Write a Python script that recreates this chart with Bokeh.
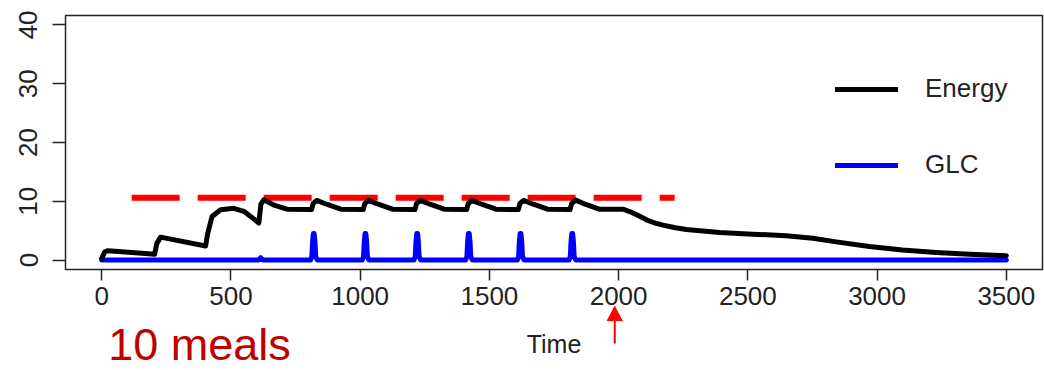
from bokeh.plotting import figure
from bokeh.models import Range1d, FixedTicker, Label, Legend, LegendItem
from bokeh.embed import file_html
from bokeh.resources import INLINE

# ---------------- data ----------------
energy_time = [0, 12, 25, 205, 213, 228, 402, 410, 427, 460, 511, 550, 580, 608,
               616, 627, 670, 717, 812,
               818, 832, 870, 925, 1012,
               1018, 1032, 1070, 1125, 1212,
               1218, 1232, 1270, 1325, 1412,
               1418, 1432, 1470, 1525, 1612,
               1618, 1632, 1670, 1725, 1812,
               1818, 1834, 1870, 1925, 2017,
               2040, 2070, 2108, 2140, 2172, 2220, 2262, 2391, 2519, 2648,
               2751, 2842, 2970, 3098, 3228, 3357, 3500]
energy_value = [0.3, 1.4, 1.6, 1.0, 2.8, 3.9, 2.4, 4.5, 7.4, 8.55, 8.8, 8.3, 7.3, 6.3,
                9.5, 10.25, 9.3, 8.65, 8.6,
                9.6, 10.15, 9.5, 8.65, 8.6,
                9.6, 10.15, 9.5, 8.65, 8.6,
                9.6, 10.15, 9.5, 8.65, 8.6,
                9.6, 10.15, 9.5, 8.65, 8.6,
                9.6, 10.15, 9.5, 8.65, 8.6,
                9.6, 10.2, 9.5, 8.65, 8.65,
                8.3, 7.7, 6.85, 6.3, 5.95, 5.5, 5.2, 4.7, 4.4, 4.15,
                3.7, 3.1, 2.3, 1.7, 1.3, 1.0, 0.75]

glc_time = [0, 605, 615, 625,
            808, 813, 816, 819, 822, 825, 828, 834,
            1008, 1013, 1016, 1019, 1022, 1025, 1028, 1034,
            1208, 1213, 1216, 1219, 1222, 1225, 1228, 1234,
            1408, 1413, 1416, 1419, 1422, 1425, 1428, 1434,
            1608, 1613, 1616, 1619, 1622, 1625, 1628, 1634,
            1808, 1813, 1816, 1819, 1822, 1825, 1828, 1834,
            3500]
glc_value = [0, 0, 0.4, 0,
             0, 0.6, 3.2, 4.5, 4.5, 3.2, 0.6, 0,
             0, 0.6, 3.2, 4.5, 4.5, 3.2, 0.6, 0,
             0, 0.6, 3.2, 4.5, 4.5, 3.2, 0.6, 0,
             0, 0.6, 3.2, 4.5, 4.5, 3.2, 0.6, 0,
             0, 0.6, 3.2, 4.5, 4.5, 3.2, 0.6, 0,
             0, 0.6, 3.2, 4.5, 4.5, 3.2, 0.6, 0,
             0]

threshold_time = [116, 2217]
threshold_value = [10.6, 10.6]

arrow_time = 1985
x_ticks = [0, 500, 1000, 1500, 2000, 2500, 3000, 3500]
y_ticks = [0, 10, 20, 30, 40]

# plotting box (R-style 4% extension of 0..3500 and 0..40)
box_x = [-140, 3640]
box_y = [-1.6, 41.6]

FONT = "Liberation Sans"
TXT = "#222222"

# The frame covers the whole page so that the annotations below the box are not clipped;
# the axes are pinned to the box edges with fixed_location.
p = figure(width=1044, height=370, output_backend="svg", toolbar_location=None,
           x_range=Range1d(-391.5, 3647.7), y_range=Range1d(-18.78, 44.15),
           min_border=0)
p.xgrid.grid_line_color = None
p.ygrid.grid_line_color = None
p.outline_line_color = None

p.quad(left=[box_x[0]], right=[box_x[1]], bottom=[box_y[0]], top=[box_y[1]],
       fill_color=None, line_color=TXT, line_width=1.5)

for ax in (p.xaxis[0], p.yaxis[0]):
    ax.axis_line_color = None
    ax.major_tick_line_color = TXT
    ax.major_tick_line_width = 1.5
    ax.major_tick_in = 0
    ax.minor_tick_line_color = None
    ax.major_label_text_font = FONT
    ax.major_label_text_font_size = "26px"
    ax.major_label_text_color = TXT

p.xaxis.fixed_location = box_y[0]
p.yaxis.fixed_location = box_x[0]
p.xaxis.bounds = (box_x[0], box_x[1])
p.yaxis.bounds = (box_y[0], box_y[1])
p.xaxis.ticker = FixedTicker(ticks=x_ticks)
p.yaxis.ticker = FixedTicker(ticks=y_ticks)
p.xaxis.major_tick_out = 11
p.yaxis.major_tick_out = 13
p.xaxis.major_label_standoff = 7
p.yaxis.major_label_standoff = 15
p.yaxis.major_label_orientation = "vertical"
p.xaxis.axis_label = "Time"
p.xaxis.axis_label_text_font = FONT
p.xaxis.axis_label_text_font_size = "25px"
p.xaxis.axis_label_text_font_style = "normal"
p.xaxis.axis_label_text_color = TXT
p.xaxis.axis_label_standoff = 21

r_thr = p.line(threshold_time, threshold_value, line_color="#FF0000", line_width=6,
               line_dash="48 18")
r_glc = p.line(glc_time, glc_value, line_color="#0000FF", line_width=5,
               line_join="round", line_cap="round")
r_en = p.line(energy_time, energy_value, line_color="black", line_width=5,
              line_join="round", line_cap="round")

legend = Legend(items=[LegendItem(label="Energy", renderers=[r_en]),
                       LegendItem(label="GLC", renderers=[r_glc])],
                location=(835, 190), orientation="vertical",
                border_line_alpha=0, background_fill_alpha=0,
                padding=0, margin=0, spacing=45,
                glyph_width=63, glyph_height=30, label_height=30,
                label_standoff=27,
                label_text_font=FONT, label_text_font_size="26px",
                label_text_color=TXT)
p.add_layout(legend)

p.add_layout(Label(x=25, y=-14.38, text="10 meals", text_font=FONT,
                   text_font_size="45px", text_color="#C00000",
                   text_baseline="alphabetic"))

# red arrow below the axis pointing up at t = 2000
p.segment(x0=[arrow_time], y0=[-14.2], x1=[arrow_time], y1=[-10.0],
          line_color="#FF0000", line_width=2)
p.patch(x=[arrow_time - 29, arrow_time + 29, arrow_time], y=[-10.3, -10.3, -7.9],
        fill_color="#FF0000", line_color="#FF0000", line_width=1)

open("out.html", "w").write(file_html(p, INLINE))
